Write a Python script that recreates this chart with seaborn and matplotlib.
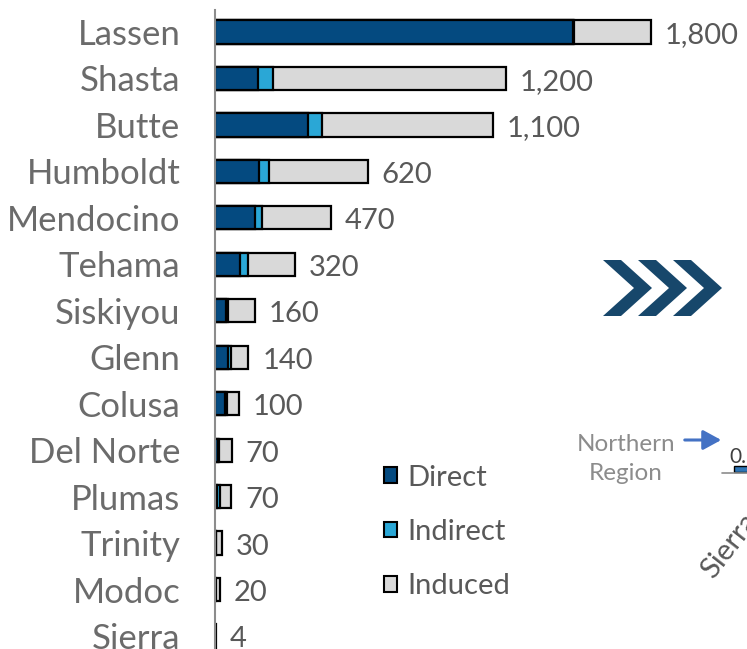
import matplotlib
matplotlib.use("Agg")
import matplotlib.pyplot as plt
import seaborn as sns
import pandas as pd
from matplotlib.patches import Patch, Polygon, FancyArrowPatch, Rectangle

# County data (jobs)
counties = ["Lassen", "Shasta", "Butte", "Humboldt", "Mendocino", "Tehama", "Siskiyou",
            "Glenn", "Colusa", "Del Norte", "Plumas", "Trinity", "Modoc", "Sierra"]
direct = [1478, 178, 384, 182, 165, 102, 44, 52, 40, 14, 8, 3, 2, 1]
indirect = [4, 62, 58, 41, 30, 33, 8, 12, 8, 2, 12, 1, 1, 0.5]
induced = [318, 960, 706, 407, 284, 195, 112, 74, 50, 54, 46, 25, 16, 2.5]
total_labels = ["1,800", "1,200", "1,100", "620", "470", "320", "160",
                "140", "100", "70", "70", "30", "20", "4"]

df = pd.DataFrame({"county": counties, "Direct": direct,
                   "Indirect": indirect, "Induced": induced})
df["lvl1"] = df["Direct"]
df["lvl2"] = df["Direct"] + df["Indirect"]
df["lvl3"] = df["lvl2"] + df["Induced"]

c_direct = "#044A80"
c_indirect = "#2AA7D6"
c_induced = "#D9D9D9"
grey_txt = "#6b6b6b"

sns.set_style("white")
plt.rcParams["font.family"] = ["Lato", "DejaVu Sans"]

W, H = 747, 649
fig = plt.figure(figsize=(W / 100, H / 100), dpi=100)
ax = fig.add_axes([215 / W, 0, (W - 215) / W, (H - 10) / H])

# stacked bars drawn as overlapping cumulative bars
for col, color in [("lvl3", c_induced), ("lvl2", c_indirect), ("lvl1", c_direct)]:
    sns.barplot(data=df, x=col, y="county", orient="h", color=color,
                edgecolor="black", linewidth=1.6, width=0.5, ax=ax,
                saturation=1)

ax.set_xlim(0, 2196)
ax.set_ylim(13.28, -0.4735)
ax.set_xlabel("")
ax.set_ylabel("")
ax.set_xticks([])
for s in ["top", "right", "bottom"]:
    ax.spines[s].set_visible(False)
ax.spines["left"].set_color("#8c8c8c")
ax.spines["left"].set_linewidth(1.5)
ax.tick_params(axis="y", length=0, pad=25, labelsize=25, labelcolor=grey_txt)

for i, (tot, lab) in enumerate(zip(df["lvl3"], total_labels)):
    ax.annotate(lab, (tot, i), xytext=(10, -2.5), textcoords="offset points",
                ha="left", va="center", fontsize=21, color="#595959")

def px(x, y):
    return (x / W, 1 - y / H)

# legend
handles = [Patch(facecolor=c, edgecolor="black", linewidth=1.5, label=l)
           for c, l in [(c_direct, "Direct"), (c_indirect, "Indirect"), (c_induced, "Induced")]]
fig.legend(handles=handles, loc="upper left", bbox_to_anchor=px(369, 450),
           frameon=False, fontsize=21, labelcolor="#595959",
           handlelength=0.45, handleheight=0.45, handletextpad=0.35,
           labelspacing=0.97, borderpad=0)

# chevrons
for k in range(3):
    x0 = 603 + 35 * k
    pts = [(x0, 260), (x0 + 18, 260), (x0 + 49, 288), (x0 + 18, 316),
           (x0, 316), (x0 + 31, 288)]
    fig.patches.append(Polygon([px(*p) for p in pts], closed=True,
                               transform=fig.transFigure, facecolor="#17476B",
                               edgecolor="none"))

# annotation of neighbouring chart
fig.text(*px(626, 459), "Northern\nRegion", ha="center", va="center",
         fontsize=17.5, color="#8c8c8c", linespacing=1.5)
fig.patches.append(FancyArrowPatch(px(682, 440), px(724, 440),
                                   transform=fig.transFigure,
                                   arrowstyle="-|>,head_length=11,head_width=6",
                                   color="#4472C4", linewidth=2.2))
fig.text(*px(729, 463), "0.", ha="left", va="baseline", fontsize=15, color="#404040")
fig.patches.append(Rectangle(px(734, 472), 20 / W, 6 / H, transform=fig.transFigure,
                             facecolor="#2E75B6", edgecolor="black", linewidth=1))
fig.lines.append(plt.Line2D([722 / W, 1], [1 - 473 / H] * 2, transform=fig.transFigure,
                            color="#8c8c8c", linewidth=1.2))
fig.text(*px(713, 580), "Sierra", rotation=52, rotation_mode="anchor",
         ha="left", va="baseline", fontsize=21, color="#595959")

fig.savefig("out.png", dpi=100)
